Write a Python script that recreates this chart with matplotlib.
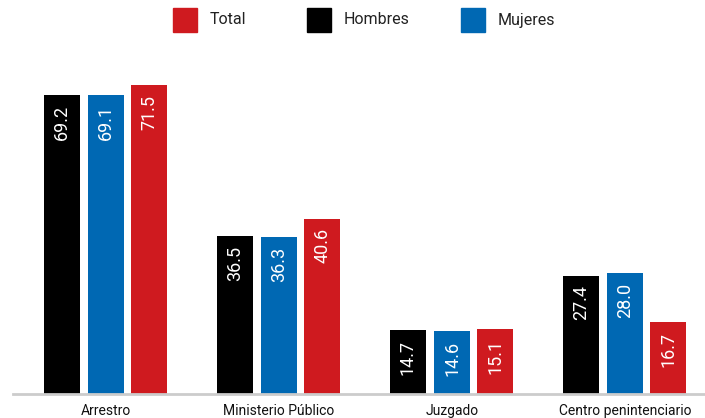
import matplotlib
matplotlib.use("Agg")
import matplotlib.pyplot as plt
from matplotlib.patches import Rectangle

categories = ["Arrestro", "Ministerio Público", "Juzgado", "Centro penintenciario"]
hombres = [69.2, 36.5, 14.7, 27.4]
mujeres = [69.1, 36.3, 14.6, 28.0]
total = [71.5, 40.6, 15.1, 16.7]
series_names = ["Total", "Hombres", "Mujeres"]

C_RED = "#CF1A1F"
C_BLK = "#000000"
C_BLU = "#0068B3"

plt.rcParams['font.family'] = ["Liberation Sans Narrow", "Roboto", "DejaVu Sans"]

W, H = 705, 418
fig = plt.figure(figsize=(W/100, H/100), dpi=100)
ax = fig.add_axes([13/W, 24/H, (W-13)/W, 0.8268])
ax.set_xlim(-0.538, 3.462)
ax.set_ylim(0, 80)
for s in ax.spines.values():
    s.set_visible(False)
ax.spines['bottom'].set_visible(True)
ax.spines['bottom'].set_color("#cccccc")
ax.spines['bottom'].set_linewidth(2)
ax.set_yticks([])
ax.set_xticks(range(len(categories)))
ax.set_xticklabels(categories, fontsize=10, color="#111111")
ax.tick_params(axis='x', length=0, pad=7)

bw = 0.208
for vals, off, col in [(hombres, -0.255, C_BLK), (mujeres, 0.0, C_BLU), (total, 0.25, C_RED)]:
    xs = [i + off for i in range(len(vals))]
    ax.bar(xs, vals, width=bw, color=col, zorder=2)
    for x, v in zip(xs, vals):
        ax.annotate(f"{v:.1f}", (x, v), xytext=(0, -7), textcoords="offset points",
                    rotation=90, ha="center", va="top", color="white", fontsize=13)

# legend
leg = [(173, C_RED, series_names[0]), (307, C_BLK, series_names[1]), (461, C_BLU, series_names[2])]
for px, col, lab in leg:
    fig.patches.append(Rectangle((px/W, (H-32)/H), 24/W, 24/H, transform=fig.transFigure,
                                 color=col, figure=fig))
    fig.text((px+37)/W, (H-20)/H, lab, fontsize=11.5, va="center", ha="left", color="#222222")

fig.savefig("out.png", dpi=100)
